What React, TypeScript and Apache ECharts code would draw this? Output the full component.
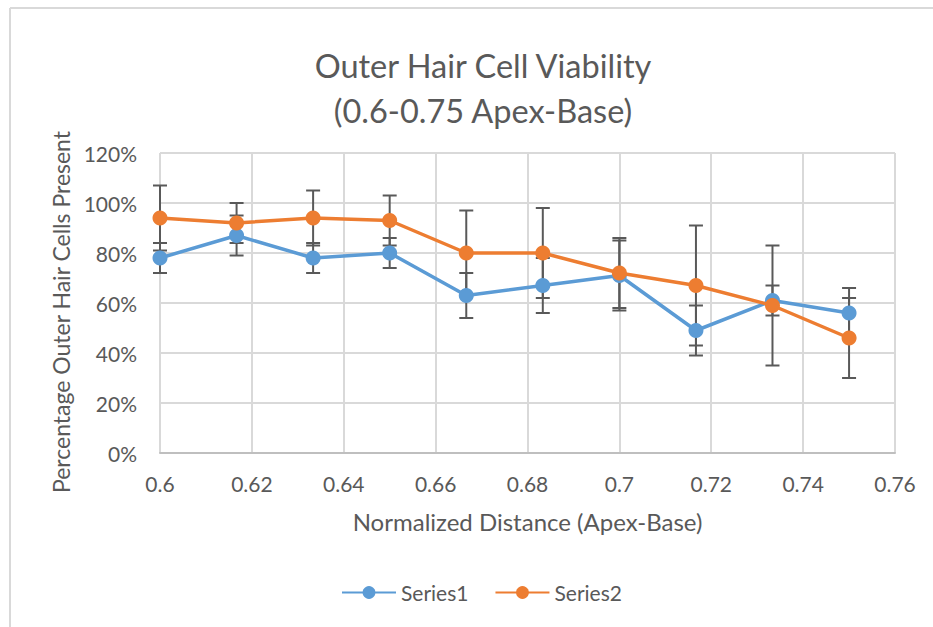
import React, { useEffect, useRef } from "react";
import * as echarts from "echarts";

const distances = [0.6, 0.61667, 0.63333, 0.65, 0.66667, 0.68333, 0.7, 0.71667, 0.73333, 0.75];
const series1 = [78, 87, 78, 80, 63, 67, 71, 49, 61, 56];
const series2 = [94, 92, 94, 93, 80, 80, 72, 67, 59, 46];
const errors1 = [6, 8, 6, 6, 9, 11, 14, 10, 6, 10];
const errors2 = [13, 8, 11, 10, 17, 18, 14, 24, 24, 16];
const seriesNames = ["Series1", "Series2"];
const xTicks = { min: 0.6, max: 0.76, interval: 0.02 };
const yTicks = { min: 0, max: 1.2, interval: 0.2 };

const FONT = "Lato, 'Open Sans', sans-serif";
const TEXT = "#595959";
const BLUE = "#5B9BD5";
const ORANGE = "#ED7D31";

function errorData(vals: number[], errs: number[]) {
  return distances.map((d, i) => [d, (vals[i] - errs[i]) / 100, (vals[i] + errs[i]) / 100]);
}

function renderError(params: any, api: any) {
  const x = api.value(0);
  const lo = api.coord([x, api.value(1)]);
  const hi = api.coord([x, api.value(2)]);
  const half = 7;
  const style = { stroke: "#595959", lineWidth: 2 };
  return {
    type: "group",
    children: [
      { type: "line", shape: { x1: lo[0], y1: lo[1], x2: hi[0], y2: hi[1] }, style },
      { type: "line", shape: { x1: lo[0] - half, y1: lo[1], x2: lo[0] + half, y2: lo[1] }, style },
      { type: "line", shape: { x1: hi[0] - half, y1: hi[1], x2: hi[0] + half, y2: hi[1] }, style },
    ],
  };
}

export default function App() {
  const ref = useRef<HTMLDivElement>(null);
  useEffect(() => {
    if (!ref.current) return;
    const chart = echarts.init(ref.current, undefined, { renderer: "svg" });
    chart.setOption({
      animation: false,
      backgroundColor: "#ffffff",
      textStyle: { fontFamily: FONT },
      title: {
        text: "Outer Hair Cell Viability\n(0.6-0.75 Apex-Base)",
        left: 483,
        top: 43,
        padding: 0,
        textAlign: "center",
        textStyle: { fontFamily: FONT, fontSize: 32.5, fontWeight: "normal", color: TEXT, lineHeight: 45 },
      },
      graphic: [
        { type: "line", shape: { x1: 10, y1: 8, x2: 933, y2: 8 }, style: { stroke: "#d9d9d9", lineWidth: 2 } },
        { type: "line", shape: { x1: 10, y1: 8, x2: 10, y2: 627 }, style: { stroke: "#d9d9d9", lineWidth: 2 } },
      ],
      legend: {
        left: 341,
        top: 582,
        itemWidth: 54,
        itemHeight: 16,
        itemGap: 26,
        padding: 0,
        data: seriesNames,
        textStyle: { fontFamily: FONT, fontSize: 21, color: TEXT },
      },
      grid: { left: 160, right: 38, top: 153, bottom: 174, containLabel: false },
      xAxis: {
        type: "value",
        min: xTicks.min,
        max: xTicks.max,
        interval: xTicks.interval,
        name: "Normalized Distance (Apex-Base)",
        nameLocation: "middle",
        nameGap: 56,
        nameTextStyle: { fontFamily: FONT, fontSize: 24, color: TEXT },
        axisLine: { show: true, lineStyle: { color: "#bfbfbf", width: 2 } },
        axisTick: { show: false },
        axisLabel: { margin: 20, fontFamily: FONT, fontSize: 21, color: TEXT },
        splitLine: { show: true, lineStyle: { color: "#d9d9d9", width: 2 } },
      },
      yAxis: {
        type: "value",
        min: yTicks.min,
        max: yTicks.max,
        interval: yTicks.interval,
        name: "Percentage Outer Hair Cells Present",
        nameLocation: "middle",
        nameGap: 88,
        nameTextStyle: { fontFamily: FONT, fontSize: 23, color: TEXT, padding: [0, 18, 0, 0] },
        axisLine: { show: false },
        axisTick: { show: false },
        axisLabel: {
          margin: 23,
          fontFamily: FONT,
          fontSize: 21,
          color: TEXT,
          formatter: (v: number) => Math.round(v * 100) + "%",
        },
        splitLine: { show: true, lineStyle: { color: "#d9d9d9", width: 2 } },
      },
      series: [
        {
          type: "custom",
          name: "err1",
          renderItem: renderError,
          data: errorData(series1, errors1),
          encode: { x: 0, y: [1, 2] },
          z: 1,
          silent: true,
        },
        {
          type: "custom",
          name: "err2",
          renderItem: renderError,
          data: errorData(series2, errors2),
          encode: { x: 0, y: [1, 2] },
          z: 1,
          silent: true,
        },
        {
          type: "line",
          name: seriesNames[0],
          data: distances.map((d, i) => [d, series1[i] / 100]),
          symbol: "circle",
          symbolSize: 15,
          lineStyle: { color: BLUE, width: 3.5 },
          itemStyle: { color: BLUE },
          z: 3,
        },
        {
          type: "line",
          name: seriesNames[1],
          data: distances.map((d, i) => [d, series2[i] / 100]),
          symbol: "circle",
          symbolSize: 15,
          lineStyle: { color: ORANGE, width: 3.5 },
          itemStyle: { color: ORANGE },
          z: 4,
        },
      ],
    });
    return () => chart.dispose();
  }, []);
  return <div ref={ref} style={{ position: "fixed", left: 0, top: 0, width: 933, height: 627 }} />;
}
